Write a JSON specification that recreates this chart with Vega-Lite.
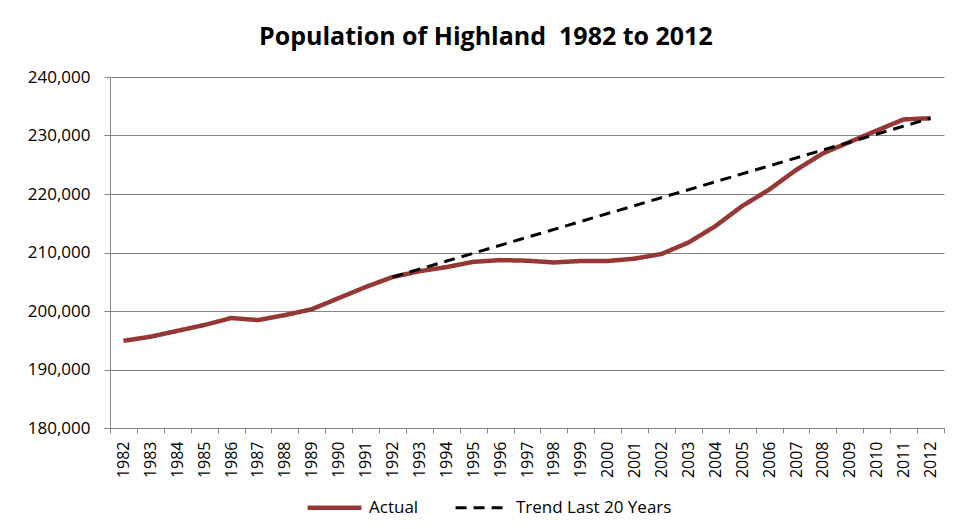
{
  "$schema": "https://vega.github.io/schema/vega-lite/v6.json",
  "autosize": "none",
  "width": 834,
  "height": 351,
  "padding": {"left": 110, "top": 77, "right": 10, "bottom": 101},
  "background": "white",
  "config": {
    "font": "Open Sans",
    "view": {"stroke": null},
    "axis": {
      "domainColor": "#868686",
      "tickColor": "#868686",
      "gridColor": "#868686",
      "labelColor": "#000000",
      "labelFont": "Open Sans",
      "domainWidth": 1,
      "tickWidth": 1,
      "gridWidth": 1
    },
    "legend": {
      "orient": "none",
      "legendX": 195,
      "legendY": 401,
      "direction": "horizontal",
      "symbolType": "stroke",
      "symbolSize": 2900,
      "labelFontSize": 17,
      "labelFont": "Open Sans",
      "labelColor": "#000000",
      "columnPadding": 30,
      "labelOffset": 5
    }
  },
  "title": {
    "text": "Population of Highland\u00a0 1982 to 2012",
    "font": "Open Sans",
    "fontSize": 25,
    "fontWeight": "bold",
    "color": "#000000",
    "anchor": "middle",
    "frame": "bounds",
    "offset": 18
  },
  "data": {
    "values": [
      {"year": "1982", "series": "Actual", "value": 194900},
      {"year": "1983", "series": "Actual", "value": 195600},
      {"year": "1984", "series": "Actual", "value": 196600},
      {"year": "1985", "series": "Actual", "value": 197600},
      {"year": "1986", "series": "Actual", "value": 198800},
      {"year": "1987", "series": "Actual", "value": 198450},
      {"year": "1988", "series": "Actual", "value": 199300},
      {"year": "1989", "series": "Actual", "value": 200300},
      {"year": "1990", "series": "Actual", "value": 202200},
      {"year": "1991", "series": "Actual", "value": 204100},
      {"year": "1992", "series": "Actual", "value": 205800},
      {"year": "1993", "series": "Actual", "value": 206800},
      {"year": "1994", "series": "Actual", "value": 207500},
      {"year": "1995", "series": "Actual", "value": 208400},
      {"year": "1996", "series": "Actual", "value": 208700},
      {"year": "1997", "series": "Actual", "value": 208600},
      {"year": "1998", "series": "Actual", "value": 208300},
      {"year": "1999", "series": "Actual", "value": 208550},
      {"year": "2000", "series": "Actual", "value": 208550},
      {"year": "2001", "series": "Actual", "value": 208950},
      {"year": "2002", "series": "Actual", "value": 209750},
      {"year": "2003", "series": "Actual", "value": 211700},
      {"year": "2004", "series": "Actual", "value": 214500},
      {"year": "2005", "series": "Actual", "value": 217950},
      {"year": "2006", "series": "Actual", "value": 220750},
      {"year": "2007", "series": "Actual", "value": 224100},
      {"year": "2008", "series": "Actual", "value": 226950},
      {"year": "2009", "series": "Actual", "value": 228900},
      {"year": "2010", "series": "Actual", "value": 230850},
      {"year": "2011", "series": "Actual", "value": 232750},
      {"year": "2012", "series": "Actual", "value": 232950},
      {"year": "1992", "series": "Trend Last 20 Years", "value": 205800},
      {"year": "2012", "series": "Trend Last 20 Years", "value": 232950}
    ]
  },
  "mark": {"type": "line", "strokeCap": "butt", "strokeJoin": "round"},
  "encoding": {
    "x": {
      "field": "year",
      "type": "ordinal",
      "bandPosition": 0.5,
      "scale": {"type": "band", "paddingInner": 0, "paddingOuter": 0},
      "axis": {
        "title": null,
        "labelAngle": -90,
        "labelFontSize": 16,
        "tickBand": "extent",
        "tickSize": 5,
        "labelPadding": 8,
        "grid": false
      }
    },
    "y": {
      "field": "value",
      "type": "quantitative",
      "scale": {"domain": [180000, 240000], "nice": false, "zero": false},
      "axis": {
        "title": null,
        "values": [180000, 190000, 200000, 210000, 220000, 230000, 240000],
        "format": ",d",
        "labelFontSize": 17,
        "tickSize": 6,
        "labelPadding": 14,
        "grid": true
      }
    },
    "color": {
      "field": "series",
      "type": "nominal",
      "scale": {"domain": ["Actual", "Trend Last 20 Years"], "range": ["#953735", "#000000"]},
      "legend": {"title": null}
    },
    "strokeDash": {
      "field": "series",
      "type": "nominal",
      "scale": {"domain": ["Actual", "Trend Last 20 Years"], "range": [[1, 0], [11, 7]]},
      "legend": {"title": null}
    },
    "strokeWidth": {
      "field": "series",
      "type": "nominal",
      "scale": {"domain": ["Actual", "Trend Last 20 Years"], "range": [4.5, 3]},
      "legend": {"title": null}
    }
  }
}
